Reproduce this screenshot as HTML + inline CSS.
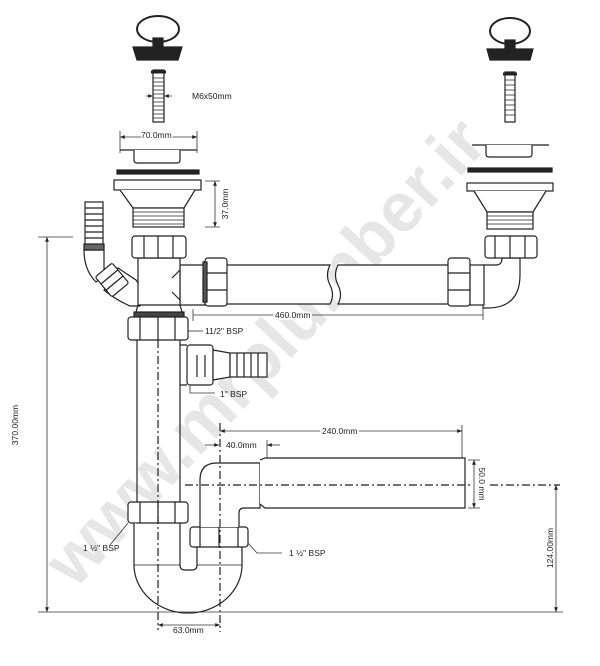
<!DOCTYPE html>
<html><head><meta charset="utf-8"><style>
html,body{margin:0;padding:0;background:#fff;}
svg{display:block}
text{font-family:"Liberation Sans",sans-serif;fill:#222;}
</style></head><body>
<svg width="600" height="666" viewBox="0 0 600 666" xmlns="http://www.w3.org/2000/svg">
<defs>
<marker id="a" viewBox="0 0 10 10" refX="10" refY="5" markerWidth="6" markerHeight="6" orient="auto-start-reverse"><path d="M0,1 L10,5 L0,9 z" fill="#222"/></marker>
</defs>
<text x="0" y="0" transform="translate(75,590) rotate(-47)" font-size="70" font-weight="bold" style="fill:#e6e6e6">www.mrplumber.ir</text>

<g fill="#fff" stroke="#222" stroke-width="1.2">
<ellipse cx="158" cy="29" rx="21" ry="13" fill="none" stroke-width="2"/>
<rect x="153" y="38" width="10" height="9" fill="#222"/>
<path d="M133,47 L182,47 L178,60 L137,60 Z" fill="#222"/>
<rect x="153" y="70" width="11" height="52"/>
<path d="M151,72 h15" stroke-width="3"/>
<g stroke-width="0.8"><path d="M153,78 h11 M153,82 h11 M153,86 h11 M153,90 h11 M153,94 h11 M153,98 h11 M153,102 h11 M153,106 h11 M153,110 h11 M153,114 h11 M153,118 h11"/></g>
<path d="M120,150 H197"/>
<path d="M134,150 v10 q0,3 3,3 h40 q3,0 3,-3 v-10"/>
<rect x="117" y="170" width="82" height="4" fill="#222"/>
<rect x="114" y="180" width="87" height="10"/>
<path d="M120,190 L133,208 L184,208 L195,190"/>
<rect x="133" y="208" width="51" height="19"/>
<path d="M133,212 h51 M133,216 h51 M133,220 h51 M133,224 h51" stroke-width="0.8"/>
<ellipse cx="510" cy="31" rx="20" ry="13" fill="none" stroke-width="2"/>
<rect x="505" y="40" width="10" height="8" fill="#222"/>
<path d="M487,49 L533,49 L530,60 L490,60 Z" fill="#222"/>
<rect x="505" y="72" width="10" height="50"/>
<path d="M503,74 h14" stroke-width="3"/>
<path d="M505,80 h10 M505,85 h10 M505,90 h10 M505,95 h10 M505,100 h10 M505,105 h10 M505,110 h10 M505,115 h10" stroke-width="0.8"/>
<path d="M472,145 H549"/>
<path d="M486,145 v9 q0,3 3,3 h40 q3,0 3,-3 v-9"/>
<rect x="468" y="168" width="84" height="4" fill="#222"/>
<rect x="467" y="183" width="86" height="8"/>
<path d="M474,191 L487,212 L533,212 L546,191"/>
<rect x="487" y="212" width="46" height="17"/>
<path d="M487,216 h46 M487,220 h46 M487,224 h46" stroke-width="0.8"/>

<path d="M483,265 H496 q6,0 6,-7 V258 H520 V275 q0,33 -33,33 H483 Z"/>
<rect x="485" y="236" width="52" height="22" rx="3"/>
<path d="M495,236 v22 M510,236 v22 M525,236 v22"/>
<path d="M225,265 H330 q-5,10 0,20 q5,10 0,19 H225 Z"/>
<path d="M450,265 H338 q-5,10 0,20 q5,10 0,19 H450 Z"/>
<rect x="448" y="258" width="22" height="48" rx="3"/>
<path d="M448,273 h22 M448,290 h22"/>
<rect x="470" y="265" width="14" height="40"/>
<path d="M180,265 H205 V305 H180 Z"/>
<rect x="205" y="258" width="22" height="48" rx="3"/>
<path d="M205,273 h22 M205,290 h22"/>
<rect x="203" y="262" width="4" height="40" fill="#555"/>

<!-- left hose -->
<path d="M118,268 L136,280 Q146,292 140,306 L130,306 Q116,300 104,290 Z"/>
<path d="M84,250 Q84,270 96,282 L104,276 Q104,262 104,250 Z"/>
<rect x="85" y="202" width="18" height="44"/>
<path d="M85,208 h18 M85,214 h18 M85,220 h18 M85,226 h18 M85,232 h18 M85,238 h18"/>
<rect x="84" y="244" width="20" height="6" fill="#666"/>
<g transform="translate(112,280) rotate(-40)">
<rect x="-11" y="-13" width="22" height="26" rx="2"/>
<path d="M-11,-4 h22 M-11,4 h22"/>
</g>
<path d="M138,258 H180 V305 H138 Z"/>
<path d="M180,270 L172,278 M180,300 L172,292"/>
<rect x="132" y="236" width="54" height="22" rx="3"/>
<path d="M144,236 v22 M158,236 v22 M173,236 v22"/>
<rect x="134" y="312" width="50" height="5" fill="#444"/>
<path d="M138,305 L136,312 M180,305 L182,312"/>
<rect x="128" y="317" width="60" height="23" rx="3"/>
<path d="M140,317 v23 M158,317 v23 M175,317 v23"/>
<path d="M137,340 V502 M180,340 V502"/>
<path d="M180,345 H187 M180,385 H187"/>
<rect x="187" y="345" width="26" height="40" rx="3"/>
<path d="M197,355 v22 M205,355 v22"/>
<path d="M213,350 L230,353 V377 L213,380 Z"/>
<rect x="230" y="353" width="37" height="24"/>
<path d="M237,353 v24 M244,353 v24 M251,353 v24 M258,353 v24"/>
<rect x="128" y="502" width="60" height="21" rx="3"/>
<path d="M140,502 v21 M158,502 v21 M175,502 v21"/>
<path d="M134,523 V565 A54,48 0 0 0 242,565 V547 M197,547 V565 q0,5 -5,5 H185 q-5,0 -5,-5 V523"/>
<path d="M134,565 H180 M197,565 H242" stroke-width="0.8"/>
<rect x="190" y="527" width="58" height="20" rx="3"/>
<path d="M200,527 v20 M219,527 v20 M238,527 v20"/>
<path d="M200,527 V480 q0,-17 17,-17 H260 V508 H244 q-5,0 -5,5 V527"/>
<path d="M260,460 L265,458 H465 V508 H265 L260,504"/>
</g>

<g stroke="#222" stroke-width="1.2" stroke-dasharray="8,3,2,3" fill="none">
<path d="M158,340 V630"/>
<path d="M220,423 V632"/>
<path d="M185,485 H470 M490,485 H560"/>
</g>

<g stroke="#333" stroke-width="0.8" fill="none">
<path d="M120,137 H197" marker-start="url(#a)" marker-end="url(#a)"/>
<path d="M120,131 v22 M197,131 v22"/>
<path d="M146,96 h7" marker-end="url(#a)"/><path d="M172,96 h-8" marker-end="url(#a)"/>
<path d="M215,181 V227" marker-start="url(#a)" marker-end="url(#a)"/>
<path d="M205,181 h15 M205,227 h15"/>
<path d="M193,315 H483" /><path d="M193,309 v12 M483,308 v12"/>
<path d="M188,331 H203"/>
<path d="M190,385 V393 H215"/>
<path d="M38,237 H73"/>
<path d="M47,237 V612" marker-start="url(#a)" marker-end="url(#a)"/>
<path d="M38,612 H563"/>
<path d="M220,431 H462" marker-start="url(#a)" marker-end="url(#a)"/>
<path d="M462,425 V458"/>
<path d="M205,445 H219" marker-end="url(#a)"/><path d="M280,445 H267" marker-end="url(#a)"/>
<path d="M267,440 V458" />
<path d="M474,460 V508" marker-start="url(#a)" marker-end="url(#a)"/>
<path d="M468,460 h12 M468,508 h12"/>
<path d="M556,485 V612" marker-start="url(#a)" marker-end="url(#a)"/>
<path d="M158,625 H220" marker-start="url(#a)" marker-end="url(#a)"/>
<path d="M128,523 L110,545"/>
<path d="M248,543 L257,553 H282"/>
</g>

<g font-size="8.5">
<text x="192" y="99">M6x50mm</text>
<text x="141" y="138" style="paint-order:stroke" stroke="#fff" stroke-width="3">70.0mm</text>
<text x="0" y="0" transform="translate(228,204) rotate(-90)" text-anchor="middle">37.0mm</text>
<text x="275" y="318" style="paint-order:stroke" stroke="#fff" stroke-width="4">460.0mm</text>
<text x="205" y="334">11/2" BSP</text>
<text x="220" y="397">1" BSP</text>
<text x="0" y="0" transform="translate(18,425) rotate(-90)" text-anchor="middle">370.00mm</text>
<text x="322" y="434" style="paint-order:stroke" stroke="#fff" stroke-width="4">240.0mm</text>
<text x="226" y="448">40.0mm</text>
<text x="0" y="0" transform="translate(479,484) rotate(90)" text-anchor="middle">50.0 mm</text>
<text x="0" y="0" transform="translate(553,548) rotate(-90)" text-anchor="middle">124.00mm</text>
<text x="83" y="551">1 ½" BSP</text>
<text x="289" y="556">1 ½" BSP</text>
<text x="173" y="633">63.0mm</text>
</g>
</svg>
</body></html>
